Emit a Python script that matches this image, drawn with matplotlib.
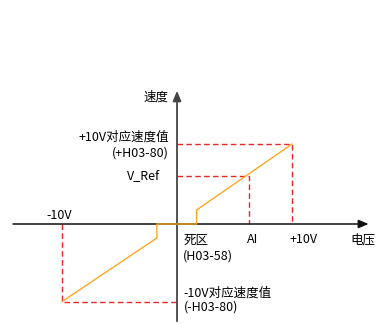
import matplotlib
matplotlib.use("Agg")
import matplotlib.pyplot as plt

plt.rcParams['font.family'] = ['Noto Sans CJK SC', 'DejaVu Sans']

# analog input (V) -> speed (% of H03-80), with dead zone H03-58
volt = [-10, -1.75, -1.75, 1.7, 1.7, 10]
speed = [-97, -17.5, 0, 0, 17.5, 100]
ai_volt = 6.26
vref_speed = 60

fig = plt.figure(figsize=(3.76, 3.24), dpi=100)
ax = fig.add_axes([0, 0, 1, 1])
ax.set_xlim(-15.39, 17.30)
ax.set_ylim(-125, 280)
ax.axis('off')

red = '#e8272a'
dash = (0, (4, 2.4))

# axes with arrows
ax.annotate('', xy=(16.9, 0), xytext=(-14.5, 0),
            arrowprops=dict(arrowstyle='-|>,head_length=0.6,head_width=0.25',
                            color='#111111', lw=1.1, mutation_scale=10))
ax.annotate('', xy=(0, 170), xytext=(0, -125),
            arrowprops=dict(arrowstyle='-|>,head_length=0.6,head_width=0.25',
                            color='#444444', lw=1.3, mutation_scale=10))

# guide lines
ax.plot([0, volt[-1], volt[-1]], [speed[-1], speed[-1], 0], color=red, lw=1.0, ls=dash)
ax.plot([0, ai_volt, ai_volt], [vref_speed, vref_speed, 0], color=red, lw=1.0, ls=dash)
ax.plot([volt[0], volt[0], 0], [0, speed[0], speed[0]], color=red, lw=1.0, ls=dash)

# characteristic curve
ax.plot(volt, speed, color='#ffa41b', lw=0.95, zorder=3)

fs = 9
ax.text(-0.7, 159, '速度', ha='right', va='center', fontsize=fs)
ax.text(-0.7, 109, '+10V对应速度值', ha='right', va='center', fontsize=fs)
ax.text(-0.7, 89, '(+H03-80)', ha='right', va='center', fontsize=fs)
ax.text(-1.45, vref_speed, 'V_Ref', ha='right', va='center', fontsize=fs)
ax.text(-10.2, 11, '-10V', ha='center', va='center', fontsize=fs)
ax.text(0.55, -21, '死区', ha='left', va='center', fontsize=fs)
ax.text(0.55, -40, '(H03-58)', ha='left', va='center', fontsize=fs)
ax.text(6.1, -19, 'AI', ha='left', va='center', fontsize=fs)
ax.text(9.75, -19, '+10V', ha='left', va='center', fontsize=fs)
ax.text(15.05, -20, '电压', ha='left', va='center', fontsize=fs)
ax.text(0.6, -86, '-10V对应速度值', ha='left', va='center', fontsize=fs)
ax.text(0.6, -104, '(-H03-80)', ha='left', va='center', fontsize=fs)

fig.savefig('out.png', dpi=100)
plt.close(fig)
